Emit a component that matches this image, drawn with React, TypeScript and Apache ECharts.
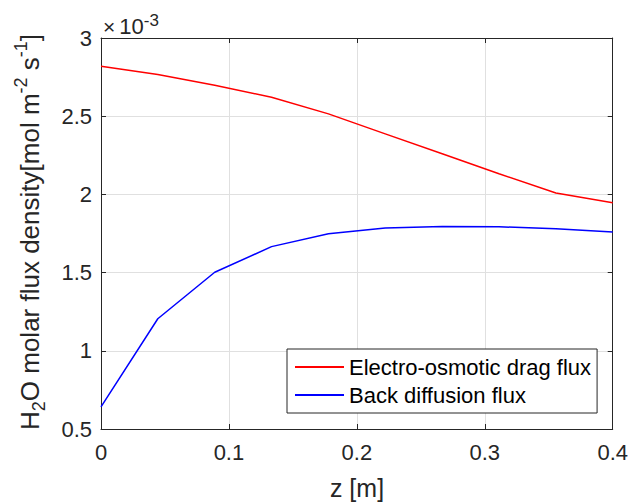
import React, { useEffect, useRef } from "react";
import * as echarts from "echarts";

const zPositions = [0, 0.0444, 0.0889, 0.1333, 0.1778, 0.2222, 0.2667, 0.3111, 0.3556, 0.4];
const dragFlux = [2.819e-3, 2.766e-3, 2.698e-3, 2.621e-3, 2.515e-3, 2.387e-3, 2.26e-3, 2.132e-3, 2.009e-3, 1.947e-3];
const backFlux = [0.642e-3, 1.205e-3, 1.502e-3, 1.666e-3, 1.748e-3, 1.785e-3, 1.795e-3, 1.793e-3, 1.78e-3, 1.759e-3];
const seriesNames = ["Electro-osmotic drag flux", "Back diffusion flux"];

const FONT = "Liberation Sans, Arial, Helvetica, sans-serif";
const AX = "#262626";
const GRID = "#e0e0e0";

export default function App() {
  const ref = useRef<HTMLDivElement>(null);
  useEffect(() => {
    if (!ref.current) return;
    const chart = echarts.init(ref.current, null, { renderer: "svg" });
    const tickLabel = { color: AX, fontSize: 22, fontFamily: FONT };
    const common = {
      axisLine: { show: true, onZero: false, lineStyle: { color: AX, width: 1 } },
      axisTick: { show: true, inside: true, length: 5, lineStyle: { color: AX } },
    };
    chart.setOption({
      animation: false,
      backgroundColor: "#ffffff",
      textStyle: { fontFamily: FONT },
      grid: { left: 101, right: 17, top: 38, bottom: 74, containLabel: false },
      xAxis: [
        {
          type: "value", min: 0, max: 0.4, interval: 0.1,
          ...common,
          axisLabel: { ...tickLabel, margin: 12, formatter: (v: number) => String(+v.toFixed(2)) },
          splitLine: { show: true, lineStyle: { color: GRID, width: 1 } },
        },
        {
          type: "value", min: 0, max: 0.4, interval: 0.1, position: "top",
          ...common,
          axisLabel: { show: false },
          splitLine: { show: false },
        },
      ],
      yAxis: [
        {
          type: "value", min: 0.0005, max: 0.003, interval: 0.0005,
          ...common,
          axisLabel: { ...tickLabel, margin: 9, formatter: (v: number) => String(+(v * 1000).toFixed(2)) },
          splitLine: { show: true, lineStyle: { color: GRID, width: 1 } },
        },
        {
          type: "value", min: 0.0005, max: 0.003, interval: 0.0005, position: "right",
          ...common,
          axisLabel: { show: false },
          splitLine: { show: false },
        },
      ],
      legend: {
        orient: "vertical",
        left: 287,
        top: 349,
        backgroundColor: "#ffffff",
        borderColor: AX,
        borderWidth: 1,
        borderRadius: 0,
        padding: [7, 6, 7, 8],
        itemWidth: 49,
        itemHeight: 2,
        itemGap: 6,
        icon: "rect",
        textStyle: { fontSize: 22, color: "#000", fontFamily: FONT, lineHeight: 22, padding: [0, 0, 0, 0] },
        data: seriesNames,
      },
      series: [
        {
          name: seriesNames[0], type: "line", showSymbol: false, symbol: "none",
          data: zPositions.map((z, i) => [z, dragFlux[i]]),
          lineStyle: { color: "#ff0000", width: 1.5 }, itemStyle: { color: "#ff0000" },
        },
        {
          name: seriesNames[1], type: "line", showSymbol: false, symbol: "none",
          data: zPositions.map((z, i) => [z, backFlux[i]]),
          lineStyle: { color: "#0000ff", width: 1.5 }, itemStyle: { color: "#0000ff" },
        },
      ],
      graphic: [
        {
          type: "text",
          x: 357, y: 488,
          style: {
            text: "z [m]", fontSize: 25, fontFamily: FONT, fill: AX,
            align: "center", verticalAlign: "middle",
          },
        },
        {
          type: "text",
          x: 30, y: 232, rotation: Math.PI / 2,
          style: {
            text: "{n|H}{sub|2}{n|O molar flux density[mol m}{sup|-2}{n| s}{sup|-1}{n|]}",
            fontFamily: FONT, fill: AX,
            align: "center", verticalAlign: "middle",
            rich: {
              n: { fontSize: 26, lineHeight: 36, fill: AX, fontFamily: FONT, verticalAlign: "middle" },
              sub: { fontSize: 18, lineHeight: 18, fill: AX, fontFamily: FONT, verticalAlign: "bottom" },
              sup: { fontSize: 18, lineHeight: 18, fill: AX, fontFamily: FONT, verticalAlign: "top" },
            },
          },
        },
        {
          type: "text",
          x: 103, y: 26,
          style: {
            text: "{x|×}{a|10}{b|-3}",
            fontFamily: FONT, fill: AX,
            align: "left", verticalAlign: "middle",
            rich: {
              x: { fontSize: 21, lineHeight: 28, fill: AX, fontFamily: FONT, verticalAlign: "middle" },
              a: { fontSize: 22, lineHeight: 28, fill: AX, fontFamily: FONT, verticalAlign: "middle", padding: [0, 0, 0, 4] },
              b: { fontSize: 17, lineHeight: 17, fill: AX, fontFamily: FONT, verticalAlign: "top" },
            },
          },
        },
      ],
    });
    return () => chart.dispose();
  }, []);
  return <div ref={ref} style={{ width: 631, height: 503, position: "absolute", left: 0, top: 0 }} />;
}
